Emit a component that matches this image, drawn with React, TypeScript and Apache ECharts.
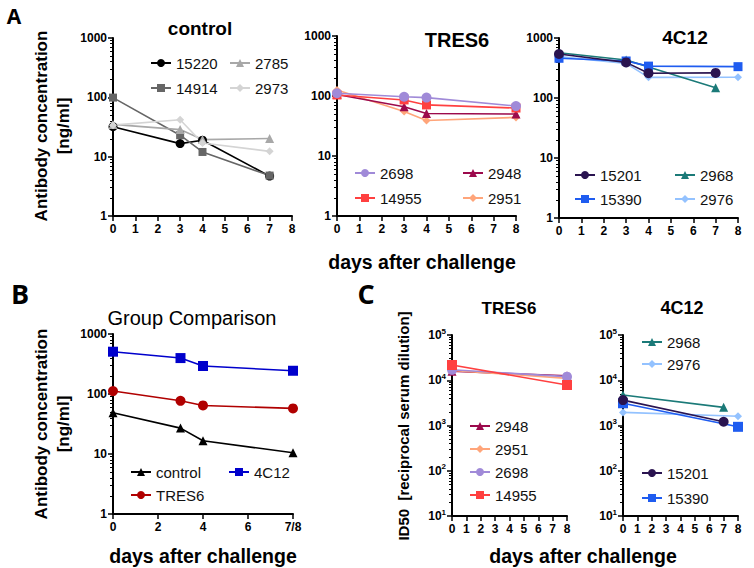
import React, { useEffect, useRef } from 'react';
import * as echarts from 'echarts';

const FONT = '"Liberation Sans", Arial, Helvetica, sans-serif';

// ---------- Panel A : control ----------
const ctrlNames = ['15220', '14914', '2785', '2973'];
const ctrlDays = [0, 3, 4, 7];
const ctrl15220 = [32, 16.6, 18.9, 4.7];
const ctrl14914 = [99, 23, 12, 4.8];
const ctrl2785 = [35, 28.6, 19.4, 20.2];
const ctrl2973 = [34, 42, 17, 12.3];

// ---------- Panel A : TRES6 ----------
const tresDays = [0, 3, 4, 8];
const tres2698 = [111, 97, 94, 68];
const tres14955 = [104, 86, 71, 63];
const tres2948 = [106, 66, 51, 50];
const tres2951 = [126, 55, 39, 44];

// ---------- Panel A : 4C12 ----------
const c12Days7 = [0, 3, 4, 7];
const c12Days8 = [0, 3, 4, 8];
const c12_15201 = [541, 392, 259, 262];
const c12_15390 = [459, 414, 340, 333];
const c12_2968 = [569, 430, 330, 148];
const c12_2976 = [490, 377, 221, 222];

// ---------- Panel B : group comparison ----------
const grpDays = [0, 3, 4, 8];
const grpControl = [48.6, 27, 16.6, 10.5];
const grpTRES6 = [112, 77, 64.5, 57.5];
const grp4C12 = [507, 397, 293, 244];

// ---------- Panel C : ID50 ----------
const id50TresDays = [0, 8];
const id50_2948 = [15800, 12500];
const id50_2951 = [16500, 11000];
const id50_2698 = [17000, 12000];
const id50_14955 = [21700, 7850];
const id50_c12Days7 = [0, 7];
const id50_c12Days8 = [0, 8];
const id50_2968 = [4720, 2520];
const id50_2976 = [1950, 1600];
const id50_15201 = [3640, 1210];
const id50_15390 = [3100, 935];

// tick label sets
const dayTicks = [0, 1, 2, 3, 4, 5, 6, 7, 8];
const groupDayLabels: Record<number, string> = { 0: '0', 2: '2', 4: '4', 6: '6', 8: '7/8' };

const C = {
  black: '#000000',
  dgray: '#666666',
  mgray: '#a8a8a8',
  lgray: '#d4d4d4',
  lav: '#a08ad8',
  red: '#ff4040',
  mag: '#9c0a4c',
  peach: '#ffa57a',
  dpurple: '#2a1450',
  blue: '#1f5cf0',
  teal: '#1b7a78',
  lblue: '#93c2ff',
  bRed: '#b00000',
  bBlue: '#0000cc',
};

function mk(name: string, days: number[], vals: number[], color: string, symbol: string, idx: number, size = 9) {
  return {
    type: 'line',
    name,
    xAxisIndex: idx,
    yAxisIndex: idx,
    data: days.map((d, i) => [d, vals[i]]),
    symbol,
    symbolSize: size,
    color,
    lineStyle: { color, width: 1.6 },
    itemStyle: { color },
    emphasis: { disabled: true },
  };
}

const grids = [
  { left: 113, top: 38, width: 179, height: 178 },
  { left: 337, top: 36, width: 179, height: 180 },
  { left: 559, top: 38, width: 179, height: 180 },
  { left: 113, top: 334, width: 180, height: 180 },
  { left: 452, top: 335, width: 115, height: 181 },
  { left: 623, top: 335, width: 115, height: 181 },
];

const axisLine = { show: true, onZero: false, lineStyle: { color: '#000', width: 2 } };
const axisTick = { show: true, length: 5, lineStyle: { color: '#000', width: 1.5 } };
const labelBase = { color: '#000', fontSize: 12, fontWeight: 'bold', fontFamily: FONT };

function xAx(idx: number, group = false) {
  return {
    type: 'value',
    gridIndex: idx,
    min: 0,
    max: 8,
    interval: group ? 2 : 1,
    axisLine,
    axisTick,
    splitLine: { show: false },
    axisLabel: {
      ...labelBase,
      margin: 7,
      formatter: (v: number) => (group ? groupDayLabels[v] ?? '' : dayTicks.includes(v) ? String(v) : ''),
    },
  };
}

function yAx(idx: number, max: number, min: number, sup = false) {
  return {
    type: 'log',
    logBase: 10,
    gridIndex: idx,
    min,
    max,
    axisLine,
    axisTick,
    minorTick: { show: true, splitNumber: 9, length: 3, lineStyle: { color: '#000', width: 1 } },
    splitLine: { show: false },
    minorSplitLine: { show: false },
    axisLabel: sup
      ? {
          ...labelBase,
          margin: 6,
          formatter: (v: number) => `{b|10}{s|${Math.round(Math.log10(v))}}`,
          rich: {
            b: { fontSize: 12, fontWeight: 'bold', fontFamily: FONT, color: '#000', lineHeight: 16 },
            s: { fontSize: 8, fontWeight: 'bold', fontFamily: FONT, color: '#000', verticalAlign: 'top', lineHeight: 16, padding: [0, 0, 8, 0] },
          },
        }
      : { ...labelBase, margin: 6, formatter: (v: number) => String(v) },
  };
}

function legend(data: string[], left: number, top: number, gap: number) {
  return {
    data,
    orient: 'vertical',
    left,
    top,
    padding: 0,
    itemWidth: 20,
    itemHeight: 10,
    itemGap: gap,
    selectedMode: false,
    textStyle: { fontSize: 15, fontFamily: FONT, color: '#111', lineHeight: 16 },
  };
}

function txt(text: string, x: number, y: number, size: number, weight = 'bold', rot = 0, family = FONT) {
  return {
    type: 'text',
    x,
    y,
    rotation: rot,
    style: { text, fontSize: size, fontWeight: weight, fontFamily: family, fill: '#000', align: 'center', verticalAlign: 'middle' },
  };
}

export default function App() {
  const ref = useRef<HTMLDivElement>(null);
  useEffect(() => {
    document.body.style.margin = '0';
    const chart = echarts.init(ref.current!, undefined, { renderer: 'svg' });
    const series = [
      mk('15220', ctrlDays, ctrl15220, C.black, 'circle', 0),
      mk('14914', ctrlDays, ctrl14914, C.dgray, 'rect', 0, 8),
      mk('2785', ctrlDays, ctrl2785, C.mgray, 'triangle', 0),
      mk('2973', ctrlDays, ctrl2973, C.lgray, 'diamond', 0, 8),

      mk('2951', tresDays, tres2951, C.peach, 'diamond', 1, 8),
      mk('2948', tresDays, tres2948, C.mag, 'triangle', 1),
      mk('14955', tresDays, tres14955, C.red, 'rect', 1, 9),
      mk('2698', tresDays, tres2698, C.lav, 'circle', 1, 10),

      mk('2976', c12Days8, c12_2976, C.lblue, 'diamond', 2, 8),
      mk('2968', c12Days7, c12_2968, C.teal, 'triangle', 2),
      mk('15390', c12Days8, c12_15390, C.blue, 'rect', 2, 9),
      mk('15201', c12Days7, c12_15201, C.dpurple, 'circle', 2, 10),

      mk('control', grpDays, grpControl, C.black, 'triangle', 3),
      mk('TRES6', grpDays, grpTRES6, C.bRed, 'circle', 3, 10),
      mk('4C12', grpDays, grp4C12, C.bBlue, 'rect', 3, 10),

      mk('2948', id50TresDays, id50_2948, C.mag, 'triangle', 4),
      mk('2951', id50TresDays, id50_2951, C.peach, 'diamond', 4, 8),
      mk('2698', id50TresDays, id50_2698, C.lav, 'circle', 4, 10),
      mk('14955', id50TresDays, id50_14955, C.red, 'rect', 4, 10),

      mk('2976', id50_c12Days8, id50_2976, C.lblue, 'diamond', 5, 8),
      mk('2968', id50_c12Days7, id50_2968, C.teal, 'triangle', 5),
      mk('15390', id50_c12Days8, id50_15390, C.blue, 'rect', 5, 10),
      mk('15201', id50_c12Days7, id50_15201, C.dpurple, 'circle', 5, 10),
    ];

    chart.setOption({
      animation: false,
      textStyle: { fontFamily: FONT },
      grid: grids,
      xAxis: [xAx(0), xAx(1), xAx(2), xAx(3, true), xAx(4), xAx(5)],
      yAxis: [yAx(0, 1000, 1), yAx(1, 1000, 1), yAx(2, 1000, 1), yAx(3, 1000, 1), yAx(4, 100000, 10, true), yAx(5, 100000, 10, true)],
      legend: [
        legend([ctrlNames[0], ctrlNames[1]], 150, 55, 9),
        legend([ctrlNames[2], ctrlNames[3]], 229, 55, 9),
        legend(['2698', '14955'], 354, 165, 9),
        legend(['2948', '2951'], 462, 165, 9),
        legend(['15201', '15390'], 574, 167, 8),
        legend(['2968', '2976'], 674, 167, 8),
        legend(['control', 'TRES6'], 130, 464, 7),
        legend(['4C12'], 228, 464, 7),
        legend(['2948', '2951', '2698', '14955'], 469, 418, 7),
        legend(['2968', '2976'], 641, 334, 6),
        legend(['15201', '15390'], 641, 465, 9),
      ],
      graphic: [
        txt('A', 14, 16, 21, 'bold', 0, '"Open Sans", sans-serif'),
        txt('B', 20, 293, 27, 'bold', 0, '"Open Sans", sans-serif'),
        txt('C', 366, 293, 27, 'bold', 0, '"Open Sans", sans-serif'),
        txt('control', 200, 28, 19),
        txt('TRES6', 457, 40, 20),
        txt('4C12', 685, 37, 19),
        txt('Group Comparison', 192, 318, 20, 'normal'),
        txt('TRES6', 509, 308, 17),
        txt('4C12', 682, 308, 18),
        txt('days after challenge', 422, 262, 19.5),
        txt('days after challenge', 203, 556, 19.5),
        txt('days after challenge', 583, 556, 19.5),
        txt('Antibody concentration', 41, 126, 17, 'bold', Math.PI / 2),
        txt('[ng/ml]', 63, 126, 17, 'bold', Math.PI / 2),
        txt('Antibody concentration', 41, 424, 17, 'bold', Math.PI / 2),
        txt('[ng/ml]', 63, 424, 17, 'bold', Math.PI / 2),
        txt('ID50  [reciprocal serum dilution]', 403, 426, 15, 'bold', Math.PI / 2),
      ],
      series,
    });
    return () => chart.dispose();
  }, []);
  return <div ref={ref} style={{ position: 'absolute', left: 0, top: 0, width: 754, height: 568, background: '#fff' }} />;
}
